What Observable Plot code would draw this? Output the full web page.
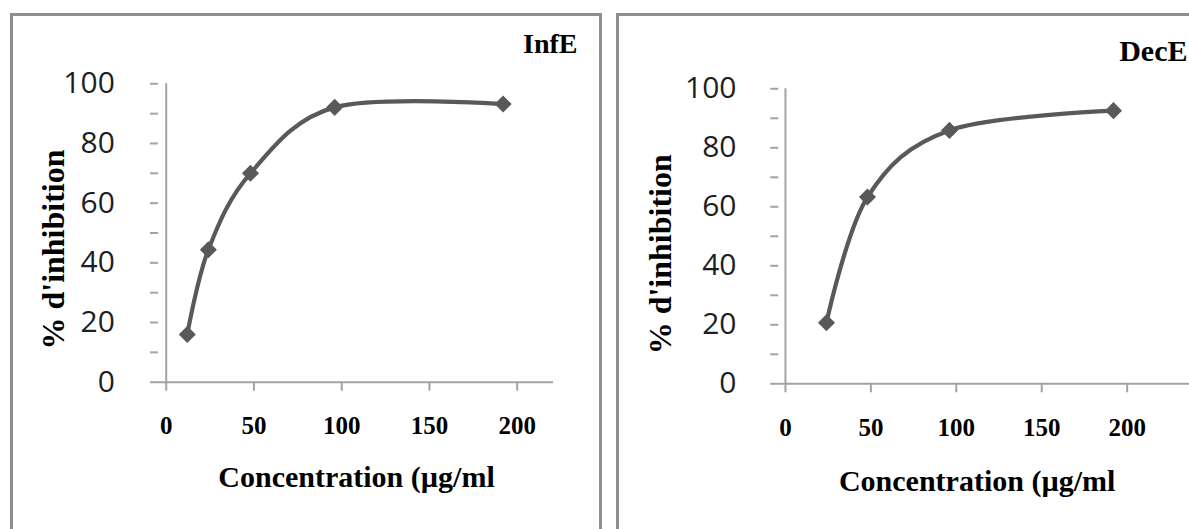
<!DOCTYPE html>
<html>
<head>
<meta charset="utf-8">
<script src="https://cdn.jsdelivr.net/npm/d3@7"></script>
<script src="https://cdn.jsdelivr.net/npm/@observablehq/plot@0.6"></script>
<style>
  html, body { margin: 0; padding: 0; background: #fff; }
  #page { position: relative; width: 1189px; height: 529px; overflow: hidden; background: #fff; }
  .panel { position: absolute; border: 3.5px solid #8e8e8e; box-sizing: border-box; }
  .chart { position: absolute; top: 0; }
  .chart svg { overflow: visible; }
</style>
</head>
<body>
<div id="page">
  <div class="panel" style="left:9.5px; top:12.5px; width:592px; height:560px;"></div>
  <div class="panel" style="left:615.5px; top:12.5px; width:620px; height:560px;"></div>
  <div class="chart" id="left" style="left:0px;"></div>
  <div class="chart" id="right" style="left:600px;"></div>
</div>
<script>
// ---- data ----
const infConcentration = [12, 24, 48, 96, 192];
const infInhibition = [16.0, 44.4, 70.0, 92.1, 93.2];
const decConcentration = [24, 48, 96, 192];
const decInhibition = [20.7, 63.3, 85.9, 92.6];
const xTickValues = [0, 50, 100, 150, 200];
const yTickValues = [0, 10, 20, 30, 40, 50, 60, 70, 80, 90, 100];
const yLabelValues = [0, 20, 40, 60, 80, 100];
const panelTitles = ["InfE", "DecE"];
const xTitle = "Concentration (µg/ml";
const yTitle = "% d'inhibition";

const serif = "'Liberation Serif', 'Times New Roman', serif";
const sans = "'Open Sans', 'Noto Sans', sans-serif";
const lineColor = "#595959";
const axisColor = "#a3a3a3";

function panel(cfg) {
  const data = cfg.xs.map((x, i) => ({x, y: cfg.ys[i]}));
  return Plot.plot({
    width: cfg.width,
    height: 529,
    marginLeft: cfg.marginLeft,
    marginRight: cfg.marginRight,
    marginTop: cfg.marginTop,
    marginBottom: cfg.marginBottom,
    style: {background: "transparent", overflow: "visible"},
    x: {domain: cfg.xDomain},
    y: {domain: [0, 100]},
    marks: [
      Plot.ruleY([0], {stroke: axisColor, strokeWidth: 2}),
      Plot.ruleX([0], {stroke: axisColor, strokeWidth: 2}),
      Plot.axisX({
        ticks: xTickValues, tickSize: 9, tickPadding: 25,
        stroke: axisColor, strokeWidth: 2, strokeOpacity: 1,
        fill: "#000", fontFamily: serif, fontWeight: "bold", fontSize: 25,
        label: null
      }),
      Plot.axisY({
        ticks: yTickValues, tickSize: 8, tickPadding: cfg.yPad,
        tickFormat: d => yLabelValues.includes(d) ? String(d) : "",
        stroke: axisColor, strokeWidth: 2, strokeOpacity: 1,
        fill: "#1e1e1e", fontFamily: sans, fontSize: 30,
        label: null
      }),
      Plot.line(data, {x: "x", y: "y", curve: "cardinal", tension: 0, stroke: lineColor, strokeWidth: 4.2}),
      Plot.dot(data, {x: "x", y: "y", symbol: "square", rotate: 45, r: 6.8, fill: lineColor, stroke: "none"}),
      Plot.text([cfg.title], {
        frameAnchor: "top-right", textAnchor: "end", lineAnchor: "middle",
        dx: cfg.titleDx, dy: cfg.titleDy,
        fontFamily: serif, fontWeight: "bold", fontSize: cfg.titleSize, fill: "#000"
      }),
      Plot.text([xTitle], {
        frameAnchor: "bottom", textAnchor: "middle", lineAnchor: "middle",
        dx: cfg.xTitleDx, dy: cfg.xTitleDy,
        fontFamily: serif, fontWeight: "bold", fontSize: 30, fill: "#000"
      }),
      Plot.text([yTitle], {
        frameAnchor: "left", textAnchor: "middle", lineAnchor: "middle", rotate: -90,
        dx: cfg.yTitleDx, dy: cfg.yTitleDy,
        fontFamily: serif, fontWeight: "bold", fontSize: 32, fill: "#000"
      })
    ]
  });
}

document.getElementById("left").append(panel({
  xs: infConcentration, ys: infInhibition, title: panelTitles[0],
  width: 600, marginLeft: 158, marginRight: 47, marginTop: 83.3, marginBottom: 147.3,
  xDomain: [-4.4, 220.7], yPad: 35.7,
  titleDx: 24, titleDy: -39.3, titleSize: 28,
  xTitleDx: 0.5, xTitleDy: 95.3,
  yTitleDx: -105, yTitleDy: 16.5
}));

document.getElementById("right").append(panel({
  xs: decConcentration, ys: decInhibition, title: panelTitles[1],
  width: 589, marginLeft: 178.3, marginRight: 0, marginTop: 88.3, marginBottom: 145.7,
  xDomain: [-3.9, 236.5], yPad: 34.3,
  titleDx: -2, titleDy: -37.3, titleSize: 30,
  xTitleDx: -7, xTitleDy: 98,
  yTitleDx: -118.3, yTitleDy: 18
}));
</script>
</body>
</html>
